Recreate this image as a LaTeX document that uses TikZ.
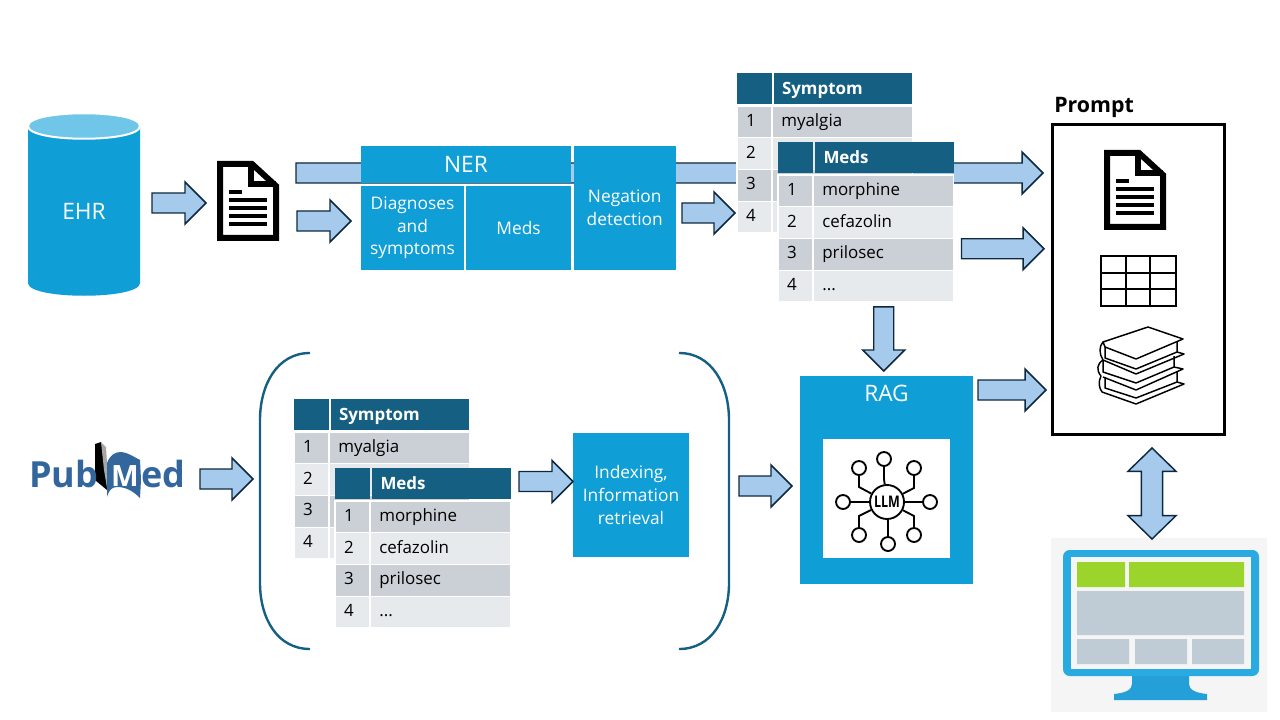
\documentclass[tikz,border=0pt]{standalone}
\usepackage{graphicx}
\usepackage{fontspec}
\setmainfont{Open Sans}
\usetikzlibrary{calc,positioning}
\newcommand{\pxu}{0.75pt}
\definecolor{boxblue}{HTML}{0F9ED5}
\definecolor{cylblue}{HTML}{6FC6E9}
\definecolor{headblue}{HTML}{156082}
\definecolor{rowdark}{HTML}{CBCFD6}
\definecolor{rowlight}{HTML}{E7EAED}
\definecolor{arrowfill}{HTML}{A6CAEC}
\definecolor{arrowline}{HTML}{0E2841}
\definecolor{pubblue}{HTML}{34669E}
\definecolor{screenblue}{HTML}{29ABE2}
\definecolor{standblue}{HTML}{259FD8}
\definecolor{screengreen}{HTML}{9BD42B}
\definecolor{screengray}{HTML}{BFCCD5}
\definecolor{screenback}{HTML}{F5F5F5}
\tikzset{bluebox/.style={
    % The shape:
    rectangle,
    inner sep=0pt,
    outer sep=0pt,
    fill=boxblue,
    text=white,
    align=center,
    font=\fontsize{13}{17}\selectfont,
    },
    cellhead/.style={
    rectangle,
    inner sep=0pt,
    outer sep=0pt,
    fill=headblue,
    text=white,
    minimum height=31*\pxu,
    font=\fontsize{12.7}{15}\selectfont\bfseries,
    text height=12.5pt,
    text depth=3pt,
    },
    cellrow/.style={
    rectangle,
    inner sep=0pt,
    outer sep=0pt,
    draw=white,
    line width=.8pt,
    minimum height=31.7*\pxu,
    font=\fontsize{12.7}{15}\selectfont,
    text height=10pt,
    text depth=3pt,
    },
    numcol/.style={minimum width=35*\pxu,text width=17*\pxu,align=left},
    textcol/.style={minimum width=140.5*\pxu,text width=122*\pxu,align=left},
    blockarrow/.style={
    draw=arrowline,
    fill=arrowfill,
    line width=1.1pt,
    to path={let \p1=(\tikztostart),\p2=(\tikztotarget),
      \n1={abs(\x2-\x1)>abs(\y2-\y1)?0:-90},\n2={max(abs(\x2-\x1),abs(\y2-\y1))} in
      {[shift={(\p1)},rotate=\n1]
      (0pt,7.5pt) -- ({\n2-15.75pt},7.5pt) -- ({\n2-15.75pt},15.75pt) -- (\n2,0pt)
      -- ({\n2-15.75pt},-15.75pt) -- ({\n2-15.75pt},-7.5pt) -- (0pt,-7.5pt) -- cycle}},
    },
    blockarrowboth/.style={
    draw=arrowline,
    fill=arrowfill,
    line width=1.1pt,
    to path={let \p1=(\tikztostart),\p2=(\tikztotarget),
      \n1={abs(\x2-\x1)>abs(\y2-\y1)?0:-90},\n2={max(abs(\x2-\x1),abs(\y2-\y1))} in
      {[shift={(\p1)},rotate=\n1]
      (0pt,0pt) -- (17.5pt,18pt) -- (17.5pt,8pt) -- ({\n2-17.5pt},8pt) -- ({\n2-17.5pt},18pt)
      -- (\n2,0pt) -- ({\n2-17.5pt},-18pt) -- ({\n2-17.5pt},-8pt) -- (17.5pt,-8pt)
      -- (17.5pt,-18pt) -- cycle}},
    },
    docicon/.pic={
    \draw[line width=4.5pt,black,fill=white,miter limit=2] (3,3) -- (35,3) -- (59,25) -- (59,77) -- (3,77) -- cycle;
    \draw[line width=4.5pt,black] (34,3) -- (34,23) -- (59,23);
    \fill[black] (12,29) rectangle (25,33);
    \foreach \liney in {37,45,53,61}
      \fill[black] (12,\liney) rectangle (50,\liney+4);
    },
    tablepair/.pic={
    % first table
    \node (sh0) [cellhead,minimum width=35*\pxu,anchor=north west] at (0,0) {};
    \node (sh1) [cellhead,textcol,right=1.5pt of sh0,minimum width=138*\pxu] {Symptom};
    \node (sn1) [cellrow,numcol,fill=rowdark,below=1.5pt of sh0] {1};
    \node (st1) [cellrow,textcol,fill=rowdark,right=0pt of sn1] {myalgia};
    \node (sn2) [cellrow,numcol,fill=rowlight,below=0pt of sn1] {2};
    \node (st2) [cellrow,textcol,fill=rowlight,right=0pt of sn2] {};
    \node (sn3) [cellrow,numcol,fill=rowdark,below=0pt of sn2] {3};
    \node (st3) [cellrow,textcol,fill=rowdark,right=0pt of sn3] {};
    \node (sn4) [cellrow,numcol,fill=rowlight,below=0pt of sn3] {4};
    \node (st4) [cellrow,textcol,fill=rowlight,right=0pt of sn4] {};
    % second table on top
    \node (mh0) [cellhead,minimum width=35*\pxu,anchor=north west] at (41,69) {};
    \node (mh1) [cellhead,textcol,right=1.5pt of mh0,minimum width=139*\pxu] {Meds};
    \node (mn1) [cellrow,numcol,fill=rowdark,below=1.5pt of mh0] {1};
    \node (mt1) [cellrow,textcol,fill=rowdark,right=0pt of mn1] {morphine};
    \node (mn2) [cellrow,numcol,fill=rowlight,below=0pt of mn1] {2};
    \node (mt2) [cellrow,textcol,fill=rowlight,right=0pt of mn2] {cefazolin};
    \node (mn3) [cellrow,numcol,fill=rowdark,below=0pt of mn2] {3};
    \node (mt3) [cellrow,textcol,fill=rowdark,right=0pt of mn3] {prilosec};
    \node (mn4) [cellrow,numcol,fill=rowlight,below=0pt of mn3] {4};
    \node (mt4) [cellrow,textcol,fill=rowlight,right=0pt of mn4] {...};
    },
}

\begin{document}
\begin{tikzpicture}[x=\pxu,y=-\pxu,node distance=0pt and 0pt]
    \useasboundingbox (0,0) rectangle (1280,720);

    % database
    \fill[boxblue] (28,126) -- (28,283) .. controls (28,300) and (140,300) .. (140,283) -- (140,126) -- cycle;
    \draw[white,line width=1.5pt,fill=cylblue] (28,126) .. controls (28,109) and (140,109) .. (140,126) .. controls (140,143) and (28,143) .. (28,126) -- cycle;
    \node (ehr) [minimum width=112*\pxu,inner sep=0pt,outer sep=0pt,text=white,font=\fontsize{17}{20}\selectfont] at (84,211) {EHR};

    % document and prompt frame come first, the long arrow runs behind the boxes
    \node (doc) [minimum width=62*\pxu,minimum height=80*\pxu,inner sep=0pt,outer sep=0pt] at (248,201) {};
    \pic at (217,161) {docicon};
    \node (prompt) [rectangle,draw=black,line width=2.25pt,minimum width=172*\pxu,minimum height=309*\pxu,outer sep=0pt] at (1138,279.5) {};
    \node (promptlabel) [above right=9pt and 1.5pt of prompt.north west,anchor=base west,inner sep=0pt,font=\fontsize{16}{18}\selectfont\bfseries] {Prompt};

    \draw[blockarrow] ([shift={(17,-28)}]doc.east) to ([shift={(-9,-106.5)}]prompt.west);
    \draw[blockarrow] ([shift={(12,-8)}]ehr.east) to ([shift={(-11,2)}]doc.west);

    % NER block
    \node (ner) [bluebox,minimum width=210*\pxu,minimum height=37*\pxu,font=\fontsize{17}{20}\selectfont] at (466,164.5) {NER};
    \node (diag) [bluebox,below right=3*\pxu and 0pt of ner.south west,minimum width=103*\pxu,minimum height=84*\pxu] {Diagnoses\\and\\symptoms};
    \node (meds) [bluebox,right=2*\pxu of diag,minimum width=105*\pxu,minimum height=84*\pxu] {Meds};
    \node (neg) [bluebox,below right=0pt and 2.5*\pxu of ner.north east,minimum width=102.5*\pxu,minimum height=124*\pxu] {Negation\\detection};
    \draw[blockarrow] ([shift={(18,20)}]doc.east) to ([shift={(-10,-7)}]diag.west);

    % extracted tables
    \pic (top) at (737,73) {tablepair};
    \draw[blockarrow] ([shift={(6,5)}]neg.east) to ([shift={(-2,-3.5)}]topsn4.west);
    \draw[blockarrow] ([shift={(8,-5.5)}]topmt3.east) to ([shift={(-8,-30.5)}]prompt.west);

    % prompt contents
    \pic at (1104,150) {docicon};
    \draw[black,line width=1.5pt] (1100.5,255.5) rectangle (1175.5,305.5)
      (1100.5,273) -- (1175.5,273) (1100.5,289) -- (1175.5,289)
      (1126,255.5) -- (1126,305.5) (1150,255.5) -- (1150,305.5);
    \draw[black,line width=1.1pt,line join=round,fill=white]
      (1103,342) -- (1148,327) -- (1183,339) -- (1136,359) -- (1105,347) -- cycle;
    \draw[black,line width=1.1pt,line join=round]
      (1105,347) -- (1105,358) -- (1136,369) -- (1177,352) (1177,341) -- (1177,352) -- (1184,354) -- (1136,374) -- (1103,360)
      (1103,342) .. controls (1099,346) and (1099,354) .. (1103,360) .. controls (1097,364) and (1096,370) .. (1101,376)
      (1103,360) -- (1103,372) -- (1136,383) -- (1174,367) (1174,356) -- (1174,367) -- (1183,369) -- (1136,390) -- (1103,377)
      (1105,377) -- (1105,388) -- (1136,398) -- (1177,382) (1177,372) -- (1177,382) -- (1184,384) -- (1136,404) -- (1102,392)
      (1101,376) .. controls (1098,382) and (1099,388) .. (1102,392);

    % PubMed logo
    \node (pubmed) [minimum width=153*\pxu,minimum height=57*\pxu,inner sep=0pt,outer sep=0pt] at (106.5,470.5) {};
    \fill[black] (95,444) -- (101,442) -- (107,463) -- (107,490) -- (95,480) -- cycle;
    \fill[gray!70] (101,442) -- (106,447) -- (107,463) -- (107,488) -- (104,470) -- cycle;
    \fill[pubblue] (107,463) .. controls (110,455) and (115,452) .. (121,452) .. controls (127,452) and (134,457) .. (140,460)
      -- (141,480) -- (140,498) .. controls (132,490) and (125,487) .. (117,487) .. controls (112,487) and (109,490) .. (107,497) -- cycle;
    \node (pubtext) [anchor=base west,inner sep=0pt,text=pubblue,font=\fontsize{27}{27}\selectfont\bfseries] at (29,487) {Pub};
    \node (pubm) [anchor=base,inner sep=0pt,text=white,font=\fontsize{22}{22}\selectfont\bfseries] at (125,486) {M};
    \node (pubed) [anchor=base west,inner sep=0pt,text=pubblue,font=\fontsize{27}{27}\selectfont\bfseries] at (141,487) {ed};

    % bracketed group
    \node (group) [minimum width=469*\pxu,minimum height=296*\pxu,inner sep=0pt,outer sep=0pt] at (494.5,501) {};
    \draw[headblue,line width=1.8pt] (310,353) .. controls (277,353) and (260,385) .. (260,420) -- (260,583) .. controls (260,618) and (277,649) .. (310,649);
    \draw[headblue,line width=1.8pt] (679,353) .. controls (712,353) and (729,385) .. (729,420) -- (729,583) .. controls (729,618) and (712,649) .. (679,649);
    \draw[blockarrow] ([shift={(17,8.5)}]pubmed.east) to ([shift={(-7,-22)}]group.west);
    \pic (low) at (294,399) {tablepair};
    \node (index) [bluebox,minimum width=116*\pxu,minimum height=124*\pxu] at (631,495) {Indexing,\\Information\\retrieval};
    \draw[blockarrow] ([shift={(8,-2)}]lowmh1.east) to ([shift={(0,-14)}]index.west);

    % RAG block
    \node (rag) [bluebox,minimum width=173*\pxu,minimum height=208*\pxu] at (886.5,480) {};
    \node (raglabel) [inner sep=0pt,text=white,font=\fontsize{17}{20}\selectfont] at (886.5,393) {RAG};
    \node (llmbox) [rectangle,fill=white,minimum width=127*\pxu,minimum height=119*\pxu,inner sep=0pt] at (886.5,498.5) {};
    \begin{scope}[shift={(887,502)}]
      \node (llm) [circle,draw=black,line width=1.4pt,minimum size=34*\pxu,inner sep=0pt,font=\fontsize{12}{12}\selectfont\bfseries] at (0,0) {\scalebox{.78}[1]{LLM}};
      \foreach \sx/\sy/\ex/\ey in {-3/-43/-3/-23,-28/-34/-28/-15,27/-34/27/-14,-44/0/-20/0,43/0/20/0,-28/33/-28/14,1/42/1/21,27/33/27/14} {
        \node (sat) [circle,draw=black,line width=1.4pt,minimum size=14*\pxu,inner sep=0pt] at (\sx,\sy) {};
        \draw[black,line width=1.4pt] (sat) -- (\ex,\ey) -- (llm);
      }
    \end{scope}
    \draw[blockarrow] ([shift={(10,-15)}]group.east) to ([shift={(-8,6)}]rag.west);
    \draw[blockarrow] ([shift={(0.5,5)}]topmt4.south) to ([shift={(-2.5,-5)}]rag.north);
    \draw[blockarrow] ([shift={(5,-90)}]rag.east) to ([shift={(-6,110.5)}]prompt.west);

    % monitor
    \node (monitor) [rectangle,fill=screenback,minimum width=216*\pxu,minimum height=174*\pxu,inner sep=0pt,outer sep=0pt] at (1159,625) {};
    \draw[blockarrowboth] ([shift={(14,14)}]prompt.south) to ([shift={(-7,1)}]monitor.north);
    \fill[standblue] (1132,676) -- (1132,684) .. controls (1132,690) and (1125,693) .. (1114,694) -- (1114,700) -- (1207,700) -- (1207,694) .. controls (1196,693) and (1189,690) .. (1189,684) -- (1189,676) -- cycle;
    \fill[screenblue,rounded corners=5pt] (1063,550) rectangle (1259,676);
    \fill[screenback] (1071,557) rectangle (1251,669);
    \fill[screengreen] (1077,562) rectangle (1125,587) (1129,562) rectangle (1244,587);
    \fill[screengray] (1077,591) rectangle (1244,635)
      (1077,639) rectangle (1129,664) (1135,639) rectangle (1187,664) (1192,639) rectangle (1244,664);
\end{tikzpicture}
\end{document}
